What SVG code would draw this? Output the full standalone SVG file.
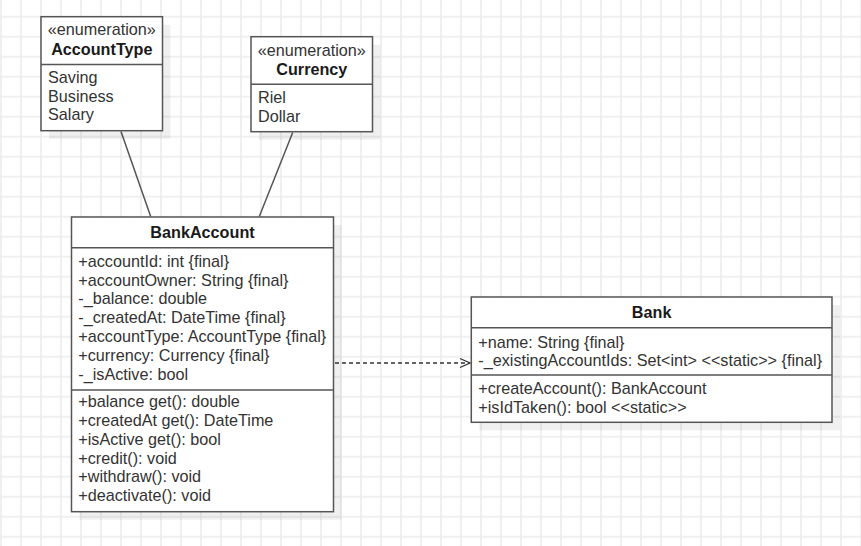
<svg xmlns="http://www.w3.org/2000/svg" width="861" height="546" viewBox="0 0 861 546">
  <defs>
    <pattern id="grid" patternUnits="userSpaceOnUse" x="-9" y="6.7" width="20" height="20">
      <path d="M10 0V20M0 10H20" stroke="#ebebeb" stroke-width="1.5" fill="none"/>
    </pattern>
    <marker id="open" markerUnits="userSpaceOnUse" markerWidth="14" markerHeight="12" refX="11" refY="6" orient="auto">
      <path d="M1 1.5L11 6L1 10.5" fill="none" stroke="#333" stroke-width="1.3"/>
    </marker>
  </defs>
  <style>
    .box{fill:#fff;stroke:#555;stroke-width:1.5}
    .sh{fill:#000;opacity:0.06}
    .sep{stroke:#555;stroke-width:1.5}
    .t{font-family:"Liberation Sans",Arial,sans-serif;font-size:16.2px;fill:#333}
    .b{font-family:"Liberation Sans",Arial,sans-serif;font-size:16.2px;font-weight:bold;fill:#1a1a1a;text-anchor:middle}
    .c{text-anchor:middle}
    .ln{stroke:#555;stroke-width:1.5;fill:none}
  </style>
  <rect width="861" height="546" fill="#fff"/>
  <rect width="861" height="546" fill="url(#grid)"/>

  <g id="connectors">
    <line class="ln" x1="121" y1="131.5" x2="150.7" y2="216.5"/>
    <line class="ln" x1="292.7" y1="132.5" x2="259.3" y2="216.5"/>
    <line x1="335" y1="363" x2="470" y2="363" stroke="#333" stroke-width="1.3" stroke-dasharray="4 3" marker-end="url(#open)"/>
  </g>

  <g id="AccountType">
    <rect class="sh" x="49" y="24.7" width="121.5" height="114"/>
    <rect class="box" x="41" y="16.7" width="121.5" height="114"/>
    <line class="sep" x1="41" y1="64.5" x2="162.5" y2="64.5"/>
    <text class="t c" x="101.8" y="35.3">«enumeration»</text>
    <text class="b" x="101.8" y="55.2">AccountType</text>
    <text class="t" x="48" y="83">Saving</text>
    <text class="t" x="48" y="101.7">Business</text>
    <text class="t" x="48" y="120.4">Salary</text>
  </g>

  <g id="Currency">
    <rect class="sh" x="259" y="44.7" width="121.5" height="95"/>
    <rect class="box" x="251" y="36.7" width="121.5" height="95"/>
    <line class="sep" x1="251" y1="84.3" x2="372.5" y2="84.3"/>
    <text class="t c" x="311.8" y="55.8">«enumeration»</text>
    <text class="b" x="311.8" y="75.2">Currency</text>
    <text class="t" x="258" y="102.7">Riel</text>
    <text class="t" x="258" y="121.5">Dollar</text>
  </g>

  <g id="BankAccount">
    <rect class="sh" x="79.5" y="225" width="262" height="294.7"/>
    <rect class="box" x="71.5" y="217" width="262" height="294.7"/>
    <line class="sep" x1="71.5" y1="247.7" x2="333.5" y2="247.7"/>
    <line class="sep" x1="71.5" y1="390" x2="333.5" y2="390"/>
    <text class="b" x="202.5" y="237.8">BankAccount</text>
    <text class="t" x="78.3" y="266.7">+accountId: int {final}</text>
    <text class="t" x="78.3" y="285.5">+accountOwner: String {final}</text>
    <text class="t" x="78.3" y="304.3">-_balance: double</text>
    <text class="t" x="78.3" y="323.1">-_createdAt: DateTime {final}</text>
    <text class="t" x="78.3" y="341.9">+accountType: AccountType {final}</text>
    <text class="t" x="78.3" y="360.7">+currency: Currency {final}</text>
    <text class="t" x="78.3" y="379.5">-_isActive: bool</text>
    <text class="t" x="78.3" y="406.8">+balance get(): double</text>
    <text class="t" x="78.3" y="425.7">+createdAt get(): DateTime</text>
    <text class="t" x="78.3" y="444.6">+isActive get(): bool</text>
    <text class="t" x="78.3" y="463.5">+credit(): void</text>
    <text class="t" x="78.3" y="482.4">+withdraw(): void</text>
    <text class="t" x="78.3" y="501.3">+deactivate(): void</text>
  </g>

  <g id="Bank">
    <rect class="sh" x="479.3" y="305" width="360.7" height="125.3"/>
    <rect class="box" x="471.3" y="297" width="360.7" height="125.3"/>
    <line class="sep" x1="471.3" y1="327.7" x2="832" y2="327.7"/>
    <line class="sep" x1="471.3" y1="375" x2="832" y2="375"/>
    <text class="b" x="651.6" y="318.3">Bank</text>
    <text class="t" x="478.3" y="347.7">+name: String {final}</text>
    <text class="t" x="478.3" y="366.3">-_existingAccountIds: Set&lt;int&gt; &lt;&lt;static&gt;&gt; {final}</text>
    <text class="t" x="478.3" y="394.3">+createAccount(): BankAccount</text>
    <text class="t" x="478.3" y="412.9">+isIdTaken(): bool &lt;&lt;static&gt;&gt;</text>
  </g>
</svg>
